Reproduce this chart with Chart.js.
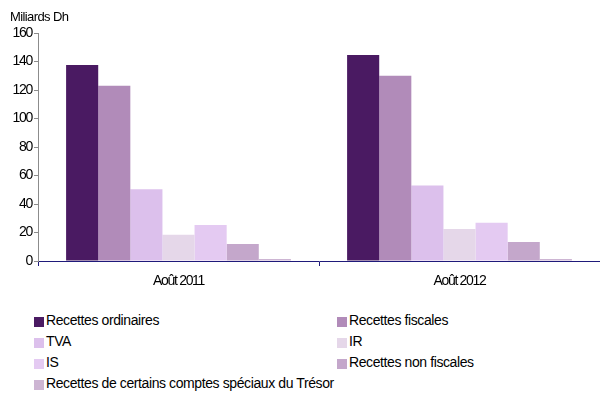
<!DOCTYPE html>
<html>
<head>
  <meta charset="UTF-8">
  <title>Recettes ordinaires</title>
  <script src="https://cdn.jsdelivr.net/npm/chart.js"></script>
  <style>
    body { margin: 0; background: #fff; }
    #wrap { position: relative; width: 600px; height: 394px; overflow: hidden; }
    #chartBox { position: absolute; left: 0; top: 0; width: 600px; height: 300px; }
    #unit {
      position: absolute;
      left: 10px;
      top: 10px;
      font-family: 'Liberation Sans', sans-serif;
      font-size: 13px;
      line-height: 13px;
      letter-spacing: -0.6px;
    }
    .leg {
      position: absolute;
      white-space: nowrap;
      color: #000;
      font-family: 'Liberation Sans', sans-serif;
      font-size: 14px;
      line-height: 16px;
      letter-spacing: -0.4px;
    }
    .leg i {
      display: inline-block;
      width: 10px;
      height: 10px;
      margin-right: 2px;
      vertical-align: -2px;
    }
  </style>
</head>
<body>
  <div id="wrap">
    <div id="chartBox"><canvas id="myChart"></canvas></div>
    <div id="unit">Miliards Dh</div>
    <div id="legend"></div>
  </div>

  <script>
    // périodes
    const categories = ['Août 2011', 'Août 2012'];

    // séries (Milliards Dh)
    const seriesNames = [
      'Recettes ordinaires',
      'Recettes fiscales',
      'TVA',
      'IR',
      'IS',
      'Recettes non fiscales',
      'Recettes de certains comptes spéciaux du Trésor'
    ];
    const recettesOrdinaires = [137.5, 144.6];
    const recettesFiscales = [123.0, 130.0];
    const tva = [50.3, 52.9];
    const ir = [18.5, 22.5];
    const is = [25.3, 26.9];
    const recettesNonFiscales = [11.9, 13.3];
    const comptesSpeciaux = [1.4, 1.4];

    const yTicks = [0, 20, 40, 60, 80, 100, 120, 140, 160];

    const colors = ['#4A1A62', '#B18BB9', '#DCC0EC', '#E5D7E9', '#E4CAF2', '#C4A7CB', '#CDB5D3'];
    const values = [recettesOrdinaires, recettesFiscales, tva, ir, is, recettesNonFiscales, comptesSpeciaux];

    const datasets = seriesNames.map((name, i) => ({
      label: name,
      data: values[i],
      backgroundColor: colors[i],
      borderWidth: 0,
      categoryPercentage: 0.8,
      barPercentage: 1.0
    }));

    const axisFont = "'Liberation Sans', sans-serif";

    // texte serré sur les axes
    const tightText = {
      id: 'tightText',
      beforeUpdate(chart) { chart.ctx.letterSpacing = '-1.3px'; },
      beforeDraw(chart) { chart.ctx.letterSpacing = '-1.3px'; }
    };

    new Chart(document.getElementById('myChart'), {
      type: 'bar',
      data: { labels: categories, datasets: datasets },
      plugins: [tightText],
      options: {
        responsive: true,
        maintainAspectRatio: false,
        animation: false,
        layout: { padding: { top: 33, right: 0, bottom: 0, left: 0 } },
        plugins: {
          legend: { display: false },
          tooltip: { enabled: false }
        },
        scales: {
          x: {
            grid: {
              display: true,
              drawOnChartArea: false,
              tickLength: 5,
              color: '#1F1A7A',
              lineWidth: 1
            },
            border: { color: '#1F1A7A', width: 1 },
            ticks: {
              color: '#000',
              padding: 7,
              font: { family: axisFont, size: 14 }
            },
            afterFit(scale) { scale.height = 39; }
          },
          y: {
            min: 0,
            max: 160,
            afterBuildTicks(scale) {
              scale.ticks = yTicks.map(v => ({ value: v }));
            },
            grid: {
              display: true,
              drawOnChartArea: false,
              tickLength: 4,
              color: '#8C8C8C'
            },
            border: { color: '#8C8C8C', width: 1 },
            ticks: {
              color: '#000',
              padding: 2,
              font: { family: axisFont, size: 14 }
            },
            afterFit(scale) { scale.width = 38; }
          }
        }
      }
    });

    // légende sur deux colonnes
    const legend = document.getElementById('legend');
    seriesNames.forEach((name, i) => {
      const row = Math.floor(i / 2);
      const col = i % 2;
      const item = document.createElement('div');
      item.className = 'leg';
      item.style.left = (col === 0 ? 34 : 337) + 'px';
      item.style.top = (312.2 + row * 20.8) + 'px';
      item.innerHTML = '<i style="background:' + colors[i] + '"></i>' + name;
      legend.appendChild(item);
    });
  </script>
</body>
</html>
